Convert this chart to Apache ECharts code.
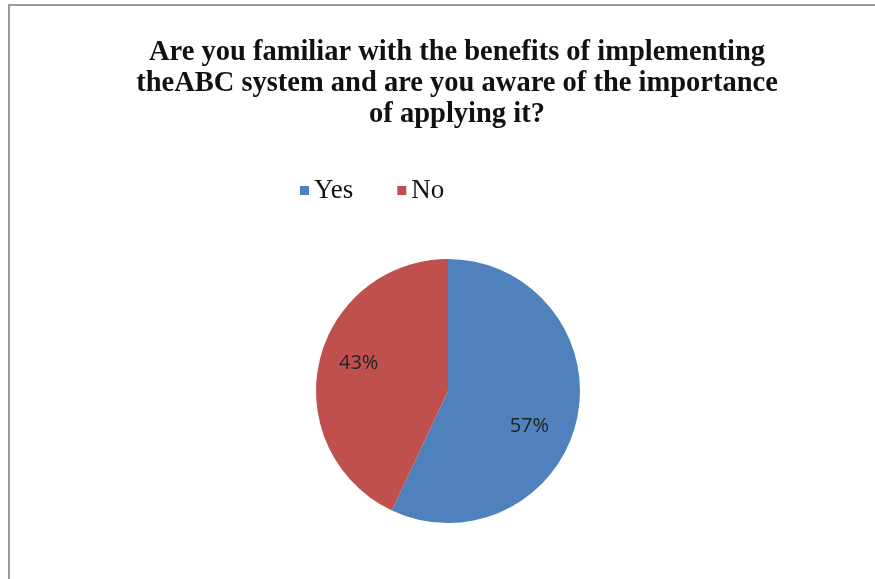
<!DOCTYPE html>
<html>
<head>
<meta charset="utf-8">
<script src="https://cdn.jsdelivr.net/npm/echarts@6/dist/echarts.min.js"></script>
<style>
html,body{margin:0;padding:0;background:#fff;}
#chart{width:875px;height:579px;}
</style>
</head>
<body>
<div id="chart"></div>
<script>
var titleText = 'Are you familiar with the benefits of implementing\ntheABC system and are you aware of the importance\nof applying it?';
var categories = ['Yes', 'No'];
var values = [57, 43];
var colors = ['#4F81BD', '#C0504D'];
var labelOffsets = [[14, 20], [-22, -13]];

var chart = echarts.init(document.getElementById('chart'));
var data = categories.map(function (c, i) {
  return {
    name: c,
    value: values[i],
    itemStyle: { color: colors[i] },
    label: { offset: labelOffsets[i] }
  };
});
chart.setOption({
  animation: false,
  graphic: [{
    type: 'rect',
    shape: { x: 9, y: 5, width: 900, height: 600 },
    style: { fill: 'none', stroke: '#9a9a9a', lineWidth: 2 }
  }],
  title: {
    text: titleText,
    left: 452,
    textAlign: 'center',
    top: 32,
    textStyle: {
      fontFamily: 'Liberation Serif, Times New Roman, serif',
      fontWeight: 'bold',
      fontSize: 28.5,
      lineHeight: 31,
      color: '#111'
    }
  },
  legend: {
    left: 295,
    top: 172,
    itemWidth: 9,
    itemHeight: 9,
    itemGap: 44,
    icon: 'rect',
    data: categories,
    textStyle: {
      fontFamily: 'Liberation Serif, Times New Roman, serif',
      fontSize: 27,
      color: '#111',
      padding: [0, 0, 0, 0]
    }
  },
  series: [{
    type: 'pie',
    center: [448, 391],
    radius: 132,
    startAngle: 90,
    clockwise: true,
    data: data,
    label: {
      show: true,
      position: 'inside',
      formatter: '{d}%',
      fontFamily: 'Open Sans, DejaVu Sans, sans-serif',
      fontSize: 20,
      color: '#222'
    },
    labelLine: { show: false },
    itemStyle: { borderWidth: 0 },
    emphasis: { disabled: true }
  }]
});
</script>
</body>
</html>
